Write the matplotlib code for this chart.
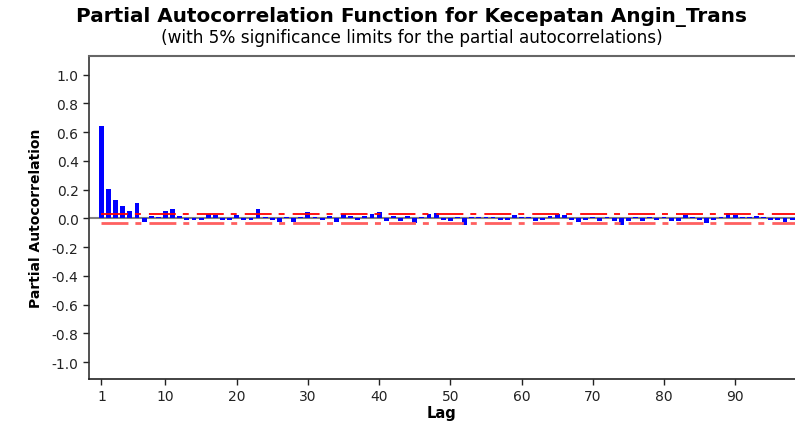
import matplotlib.pyplot as plt
import numpy as np

plt.rcParams['lines.scale_dashes'] = False

# PACF values (lags 1..98)
pacf = [0.640, 0.205, 0.130, 0.088, 0.054, 0.106, -0.026, 0.019, 0.010, 0.054,
        0.063, 0.013, -0.010, -0.010, -0.010, 0.028, 0.020, -0.008, -0.012, 0.026,
        -0.010, -0.008, 0.068, 0.012, -0.013, -0.027, 0.010, -0.027, 0.012, 0.042,
        0.008, -0.009, 0.019, -0.027, 0.028, 0.019, -0.012, 0.014, 0.028, 0.044,
        -0.020, 0.014, -0.018, 0.014, -0.035, 0.008, 0.028, 0.036, -0.008, -0.021,
        0.009, -0.046, 0.008, 0.012, 0.009, 0.008, -0.014, -0.008, 0.026, 0.012,
        0.012, -0.019, -0.012, 0.019, 0.028, 0.026, -0.014, -0.028, -0.012, 0.012,
        -0.019, 0.012, -0.019, -0.046, -0.019, 0.009, -0.020, 0.008, -0.008, 0.008,
        -0.020, -0.020, 0.026, 0.012, -0.009, -0.030, -0.008, 0.012, 0.035, 0.021,
        0.008, 0.008, 0.019, 0.008, -0.008, -0.014, -0.028, -0.008]
lags = np.arange(1, len(pacf) + 1)
sig_limit = 0.033

xticks = [1, 10, 20, 30, 40, 50, 60, 70, 80, 90]
yticks = [-1.0, -0.8, -0.6, -0.4, -0.2, 0.0, 0.2, 0.4, 0.6, 0.8, 1.0]

fig = plt.figure(figsize=(7.95, 4.27), dpi=100)
ax = fig.add_axes([89 / 795, 1 - 380 / 427, 1 - 89 / 795, (380 - 57) / 427])

# zero line and significance limits
ax.axhline(0, color='#808080', lw=1.5, zorder=1)
dash = (0, (19.4, 5.0, 4.3, 5.8))
ax.plot([1, 99], [sig_limit, sig_limit], color='#ff0000', lw=1.3, linestyle=dash, zorder=3)
ax.plot([1, 99], [-sig_limit, -sig_limit], color='#ff6060', lw=2.0, linestyle=dash, zorder=3)

ax.bar(lags, pacf, width=0.68, color='#0000ff', zorder=2)

ax.set_xlim(-0.74, 98.4)
ax.set_ylim(-1.118, 1.13)
ax.set_xticks(xticks)
ax.set_yticks(yticks)
ax.set_yticklabels([f'{v:.1f}' for v in yticks])
ax.tick_params(direction='out', length=4, width=1, labelsize=10, colors='#222222')

ax.spines['right'].set_visible(False)
ax.spines['top'].set_color('#666666')
ax.spines['top'].set_linewidth(1.5)
ax.spines['left'].set_color('#333333')
ax.spines['bottom'].set_color('#222222')
ax.spines['left'].set_linewidth(1.2)
ax.spines['bottom'].set_linewidth(1.2)

ax.set_xlabel('Lag', fontsize=10.5, fontweight='bold', labelpad=1)
ax.set_ylabel('Partial Autocorrelation', fontsize=10, fontweight='bold', labelpad=6)

fig.text(412 / 795, 1 - 17 / 427, 'Partial Autocorrelation Function for Kecepatan Angin_Trans',
         ha='center', va='center', fontsize=14.4, fontweight='bold')
fig.text(412 / 795, 1 - 38 / 427, '(with 5% significance limits for the partial autocorrelations)',
         ha='center', va='center', fontsize=12.2)

fig.savefig('out.png', dpi=100)
